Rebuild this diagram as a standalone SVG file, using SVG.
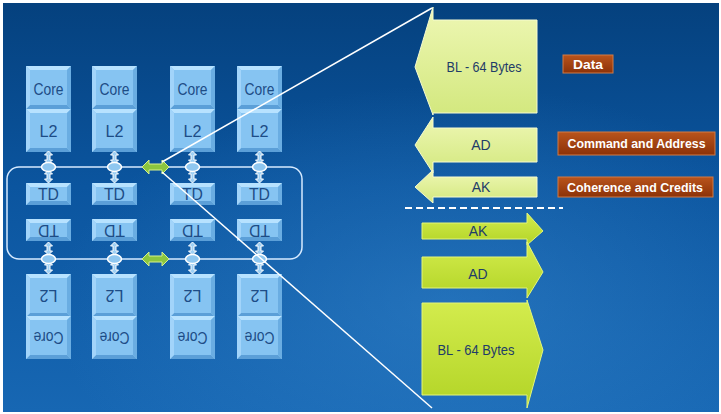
<svg xmlns="http://www.w3.org/2000/svg" xmlns:xlink="http://www.w3.org/1999/xlink" width="721" height="414" viewBox="0 0 721 414">
<defs>
  <linearGradient id="bg" x1="0" y1="0" x2="0" y2="1">
    <stop offset="0" stop-color="#05417e"/>
    <stop offset="0.45" stop-color="#0b559f"/>
    <stop offset="1" stop-color="#1767b3"/>
  </linearGradient>
  <radialGradient id="glow" cx="0.62" cy="0.75" r="0.55">
    <stop offset="0" stop-color="#3a8ad0" stop-opacity="0.45"/>
    <stop offset="1" stop-color="#3a8ad0" stop-opacity="0"/>
  </radialGradient>
  <linearGradient id="paleG" x1="0" y1="0" x2="0" y2="1">
    <stop offset="0" stop-color="#eef7b4"/>
    <stop offset="1" stop-color="#d3e87e"/>
  </linearGradient>
  <linearGradient id="limeG" x1="0" y1="0" x2="0" y2="1">
    <stop offset="0" stop-color="#d4ec4e"/>
    <stop offset="1" stop-color="#b2d426"/>
  </linearGradient>
  <linearGradient id="brownG" x1="0" y1="0" x2="0" y2="1">
    <stop offset="0" stop-color="#b9541c"/>
    <stop offset="1" stop-color="#8c3208"/>
  </linearGradient>
  <symbol id="bev43" viewBox="0 0 45 43" width="45" height="43">
    <rect x="0" y="0" width="45" height="43" fill="#86c4f2"/>
    <polygon points="0,0 45,0 41,4 4,4" fill="#b7e2ff"/>
    <polygon points="0,43 45,43 41,39 4,39" fill="#5b9fd8"/>
    <polygon points="0,0 4,4 4,39 0,43" fill="#a2d4fa"/>
    <polygon points="45,0 41,4 41,39 45,43" fill="#6aade2"/>
  </symbol>
  <symbol id="bev22" viewBox="0 0 45 22" width="45" height="22">
    <rect x="0" y="0" width="45" height="22" fill="#86c4f2"/>
    <polygon points="0,0 45,0 41,4 4,4" fill="#b7e2ff"/>
    <polygon points="0,22 45,22 41,18 4,18" fill="#5b9fd8"/>
    <polygon points="0,0 4,4 4,18 0,22" fill="#a2d4fa"/>
    <polygon points="45,0 41,4 41,18 45,22" fill="#6aade2"/>
  </symbol>
  <symbol id="vdarrow" viewBox="0 0 8 13" width="8" height="13" overflow="visible">
    <path d="M4,0 L8,4 L5.5,4 L5.5,9 L8,9 L4,13 L0,9 L2.5,9 L2.5,4 L0,4 Z" fill="#9fd0f4" stroke="#ffffff" stroke-width="1"/>
  </symbol>
  <symbol id="hdarrow" viewBox="0 0 27 14" width="27" height="14" overflow="visible">
    <path d="M0,7 L7,0 L7,4 L20,4 L20,0 L27,7 L20,14 L20,10 L7,10 L7,14 Z" fill="#8cc63f" stroke="#d6f28c" stroke-width="1"/>
  </symbol>
</defs>
<style>
  .lbl{font-family:"Liberation Sans",Arial,sans-serif;font-size:16px;fill:#1d4c86;text-anchor:middle}
  .arr{font-family:"Liberation Sans",Arial,sans-serif;font-size:14px;fill:#1f3c68;text-anchor:middle}
  .tag{font-family:"Liberation Sans",Arial,sans-serif;font-weight:bold;font-size:13px;fill:#ffffff;text-anchor:middle}
  .ell{fill:#8fc7f0;stroke:#ffffff;stroke-width:1.5}
  .conn{stroke:#ffffff;stroke-width:1.5;fill:none}
  .bus{stroke:#d6eaff;stroke-width:1.5;fill:none}
  .tagbox{fill:url(#brownG);stroke:#d27a45;stroke-width:1}
  .pale{fill:url(#paleG);stroke:#f6fbd0;stroke-width:1}
  .lime{fill:url(#limeG);stroke:#e4f57a;stroke-width:1}
</style>
<rect x="0" y="0" width="721" height="414" fill="#ffffff"/>
<rect x="3" y="3" width="716" height="409" fill="url(#bg)"/>
<rect x="3" y="3" width="716" height="409" fill="url(#glow)"/>

<g id="bus-ring">
  <rect class="bus" x="7" y="167" width="295" height="92" rx="12"/>
</g>

<g id="col1">
  <use href="#bev43" x="26" y="66"/><text class="lbl" x="48.5" y="94.5" textLength="30" lengthAdjust="spacingAndGlyphs">Core</text>
  <use href="#bev43" x="26" y="109"/><text class="lbl" x="48.5" y="136.5" textLength="18" lengthAdjust="spacingAndGlyphs">L2</text>
  <use href="#bev22" x="26" y="183"/><text class="lbl" x="48.5" y="200" textLength="21" lengthAdjust="spacingAndGlyphs">TD</text>
  <use href="#bev22" x="26" y="219"/><text class="lbl" x="48.5" y="235.5" transform="rotate(180 48.5 230)" textLength="21" lengthAdjust="spacingAndGlyphs">TD</text>
  <use href="#bev43" x="26" y="274"/><text class="lbl" x="48.5" y="300.5" transform="rotate(180 48.5 295)" textLength="18" lengthAdjust="spacingAndGlyphs">L2</text>
  <use href="#bev43" x="26" y="316"/><text class="lbl" x="48.5" y="342.5" transform="rotate(180 48.5 337)" textLength="30" lengthAdjust="spacingAndGlyphs">Core</text>
</g>
<g id="col2">
  <use href="#bev43" x="92" y="66"/><text class="lbl" x="114.5" y="94.5" textLength="30" lengthAdjust="spacingAndGlyphs">Core</text>
  <use href="#bev43" x="92" y="109"/><text class="lbl" x="114.5" y="136.5" textLength="18" lengthAdjust="spacingAndGlyphs">L2</text>
  <use href="#bev22" x="92" y="183"/><text class="lbl" x="114.5" y="200" textLength="21" lengthAdjust="spacingAndGlyphs">TD</text>
  <use href="#bev22" x="92" y="219"/><text class="lbl" x="114.5" y="235.5" transform="rotate(180 114.5 230)" textLength="21" lengthAdjust="spacingAndGlyphs">TD</text>
  <use href="#bev43" x="92" y="274"/><text class="lbl" x="114.5" y="300.5" transform="rotate(180 114.5 295)" textLength="18" lengthAdjust="spacingAndGlyphs">L2</text>
  <use href="#bev43" x="92" y="316"/><text class="lbl" x="114.5" y="342.5" transform="rotate(180 114.5 337)" textLength="30" lengthAdjust="spacingAndGlyphs">Core</text>
</g>
<g id="col3">
  <use href="#bev43" x="170" y="66"/><text class="lbl" x="192.5" y="94.5" textLength="30" lengthAdjust="spacingAndGlyphs">Core</text>
  <use href="#bev43" x="170" y="109"/><text class="lbl" x="192.5" y="136.5" textLength="18" lengthAdjust="spacingAndGlyphs">L2</text>
  <use href="#bev22" x="170" y="183"/><text class="lbl" x="192.5" y="200" textLength="21" lengthAdjust="spacingAndGlyphs">TD</text>
  <use href="#bev22" x="170" y="219"/><text class="lbl" x="192.5" y="235.5" transform="rotate(180 192.5 230)" textLength="21" lengthAdjust="spacingAndGlyphs">TD</text>
  <use href="#bev43" x="170" y="274"/><text class="lbl" x="192.5" y="300.5" transform="rotate(180 192.5 295)" textLength="18" lengthAdjust="spacingAndGlyphs">L2</text>
  <use href="#bev43" x="170" y="316"/><text class="lbl" x="192.5" y="342.5" transform="rotate(180 192.5 337)" textLength="30" lengthAdjust="spacingAndGlyphs">Core</text>
</g>
<g id="col4">
  <use href="#bev43" x="237" y="66"/><text class="lbl" x="259.5" y="94.5" textLength="30" lengthAdjust="spacingAndGlyphs">Core</text>
  <use href="#bev43" x="237" y="109"/><text class="lbl" x="259.5" y="136.5" textLength="18" lengthAdjust="spacingAndGlyphs">L2</text>
  <use href="#bev22" x="237" y="183"/><text class="lbl" x="259.5" y="200" textLength="21" lengthAdjust="spacingAndGlyphs">TD</text>
  <use href="#bev22" x="237" y="219"/><text class="lbl" x="259.5" y="235.5" transform="rotate(180 259.5 230)" textLength="21" lengthAdjust="spacingAndGlyphs">TD</text>
  <use href="#bev43" x="237" y="274"/><text class="lbl" x="259.5" y="300.5" transform="rotate(180 259.5 295)" textLength="18" lengthAdjust="spacingAndGlyphs">L2</text>
  <use href="#bev43" x="237" y="316"/><text class="lbl" x="259.5" y="342.5" transform="rotate(180 259.5 337)" textLength="30" lengthAdjust="spacingAndGlyphs">Core</text>
</g>

<g id="connectors">
  <use href="#vdarrow" x="44.5" y="151"/><use href="#vdarrow" x="44.5" y="170"/>
  <use href="#vdarrow" x="110.5" y="151"/><use href="#vdarrow" x="110.5" y="170"/>
  <use href="#vdarrow" x="188.5" y="151"/><use href="#vdarrow" x="188.5" y="170"/>
  <use href="#vdarrow" x="255.5" y="151"/><use href="#vdarrow" x="255.5" y="170"/>
  <use href="#vdarrow" x="44.5" y="242"/><use href="#vdarrow" x="44.5" y="261"/>
  <use href="#vdarrow" x="110.5" y="242"/><use href="#vdarrow" x="110.5" y="261"/>
  <use href="#vdarrow" x="188.5" y="242"/><use href="#vdarrow" x="188.5" y="261"/>
  <use href="#vdarrow" x="255.5" y="242"/><use href="#vdarrow" x="255.5" y="261"/>
  <ellipse class="ell" cx="48.5" cy="167" rx="7" ry="4.5"/>
  <ellipse class="ell" cx="114.5" cy="167" rx="7" ry="4.5"/>
  <ellipse class="ell" cx="192.5" cy="167" rx="7" ry="4.5"/>
  <ellipse class="ell" cx="259.5" cy="167" rx="7" ry="4.5"/>
  <ellipse class="ell" cx="48.5" cy="259" rx="7" ry="4.5"/>
  <ellipse class="ell" cx="114.5" cy="259" rx="7" ry="4.5"/>
  <ellipse class="ell" cx="192.5" cy="259" rx="7" ry="4.5"/>
  <ellipse class="ell" cx="259.5" cy="259" rx="7" ry="4.5"/>
  <use href="#hdarrow" x="142" y="160"/>
  <use href="#hdarrow" x="142" y="252"/>
  <line class="conn" x1="162" y1="162" x2="432" y2="8"/>
  <line class="conn" x1="162" y1="172" x2="432" y2="408"/>
  <line x1="405" y1="208" x2="563" y2="208" stroke="#ffffff" stroke-width="2" stroke-dasharray="7 4"/>
</g>

<g id="top-BL">
  <path class="pale" d="M537,20 L537,113 L433,113 L433,115 L415,67 L433,7 L433,20 Z"/>
  <text class="arr" x="484" y="72" textLength="75" lengthAdjust="spacingAndGlyphs">BL - 64 Bytes</text>
</g>
<g id="top-AD">
  <path class="pale" d="M537,128 L537,162 L433,162 L433,173 L415,145 L433,117 L433,128 Z"/>
  <text class="arr" x="481" y="150">AD</text>
</g>
<g id="top-AK">
  <path class="pale" d="M537,177 L537,197 L433,197 L433,203 L415,187 L433,170 L433,177 Z"/>
  <text class="arr" x="481" y="192">AK</text>
</g>
<g id="bot-AK">
  <path class="lime" d="M422,223 L527,223 L527,213 L543,231 L527,245 L527,239 L422,239 Z"/>
  <text class="arr" x="478" y="236">AK</text>
</g>
<g id="bot-AD">
  <path class="lime" d="M422,257 L527,257 L527,242 L543,272 L527,298 L527,288 L422,288 Z"/>
  <text class="arr" x="478" y="279">AD</text>
</g>
<g id="bot-BL">
  <path class="lime" d="M422,303 L527,303 L527,300 L543,350 L527,408 L527,395 L422,395 Z"/>
  <text class="arr" x="476" y="355" textLength="77" lengthAdjust="spacingAndGlyphs">BL - 64 Bytes</text>
</g>

<g id="tag-data">
  <rect class="tagbox" x="563" y="55" width="50" height="18"/>
  <text class="tag" x="588" y="68.5" textLength="30" lengthAdjust="spacingAndGlyphs">Data</text>
</g>
<g id="tag-cmd">
  <rect class="tagbox" x="558" y="132" width="157" height="23"/>
  <text class="tag" x="636.5" y="148" textLength="138" lengthAdjust="spacingAndGlyphs">Command and Address</text>
</g>
<g id="tag-coh">
  <rect class="tagbox" x="558" y="177" width="155" height="20"/>
  <text class="tag" x="635" y="191.5" textLength="136" lengthAdjust="spacingAndGlyphs">Coherence and Credits</text>
</g>
</svg>
